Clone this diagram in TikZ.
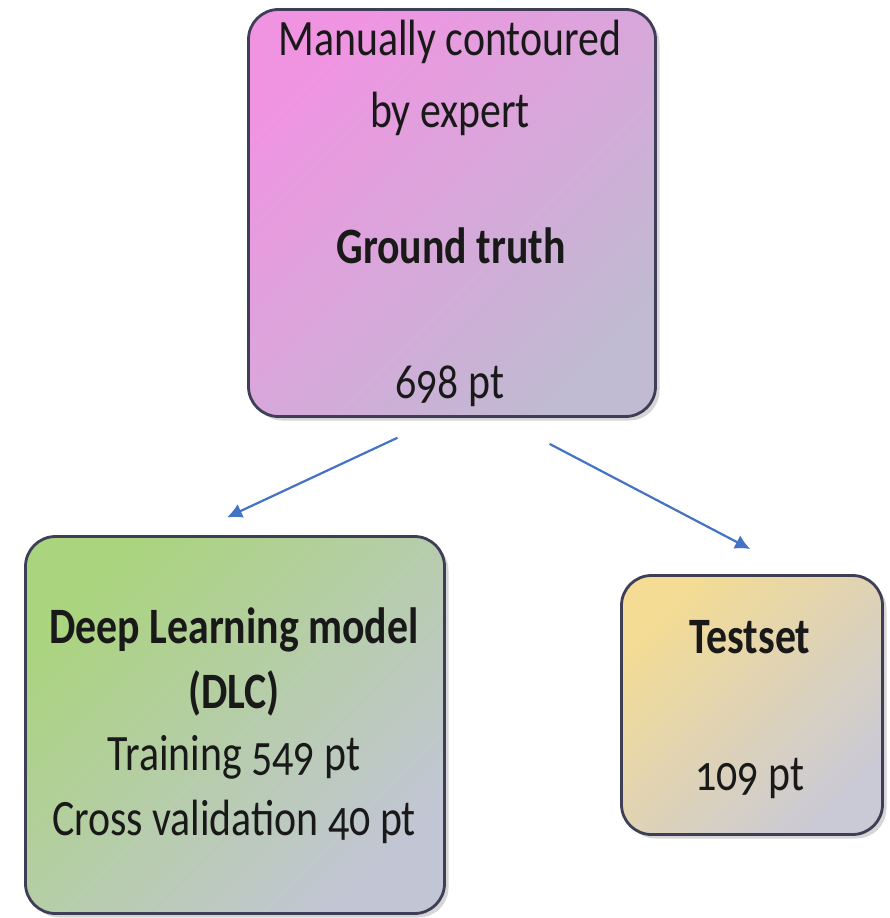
\documentclass[tikz,border=0pt]{standalone}
\usepackage{fontspec}
\setmainfont{Carlito}[FakeStretch=0.82,Numbers=OldStyle]
\usetikzlibrary{arrows.meta,shadows}
\definecolor{boxline}{RGB}{62,62,86}
\definecolor{arrowblue}{RGB}{68,114,196}
\definecolor{pinktop}{RGB}{240,148,226}
\definecolor{pinkend}{RGB}{192,186,210}
\definecolor{greentop}{RGB}{170,212,126}
\definecolor{greenend}{RGB}{194,198,212}
\definecolor{sandtop}{RGB}{244,220,148}
\definecolor{sandend}{RGB}{202,202,214}

\begin{document}
\begin{tikzpicture}[x=1pt,y=1pt]
\tikzstyle{every node}+=[inner sep=0pt]
\tikzstyle{card}=[draw=boxline, line width=2.8pt, rounded corners=30pt, drop shadow={shadow xshift=4pt, shadow yshift=-4pt, fill=black!16, opacity=1}]
\tikzstyle{label}=[anchor=base, text=black!90, font=\fontsize{51}{60}\selectfont]
\tikzstyle{title}=[label, font=\fontsize{51}{60}\selectfont\bfseries]
\tikzstyle{flow}=[draw=arrowblue, line width=2.2pt, -{Latex[length=15pt,width=15pt]}]
\useasboundingbox (0,0) rectangle (890,-918);
\node (gt) [card, top color=pinktop, middle color=pinktop!82!pinkend, bottom color=pinkend, shading angle=45, minimum width=407, minimum height=407] at (452,-213) {};
\node (dlc) [card, top color=greentop, middle color=greentop!80!greenend, bottom color=greenend, shading angle=45, minimum width=419, minimum height=377] at (235,-725) {};
\node (test) [card, top color=sandtop, middle color=sandtop!80!sandend, bottom color=sandend, shading angle=45, minimum width=261, minimum height=259] at (752,-705) {};
\node (gta) [label] at (450,-55) {Manually contoured};
\node (gtb) [label] at (450,-127) {by expert};
\node (gtc) [title] at (451,-263) {Ground truth};
\node (gtd) [label] at (450,-398) {698 pt};
\node (dlca) [title] at (234,-643) {Deep Learning model};
\node (dlcb) [title] at (234,-708) {(DLC)};
\node (dlcc) [label] at (234,-770) {Training 549 pt};
\node (dlcd) [label] at (234,-835) {Cross validation 40 pt};
\node (testa) [title] at (750,-653) {Testset};
\node (testb) [label] at (750,-790) {109 pt};
\draw [flow, shorten <=47pt, shorten >=42pt] ([xshift=-12pt]gt.south) -- ([xshift=-46pt]dlc.north);
\draw [flow, shorten <=56pt, shorten >=54pt] ([xshift=48pt]gt.south) -- ([xshift=46pt]test.north);
\end{tikzpicture}
\end{document}
